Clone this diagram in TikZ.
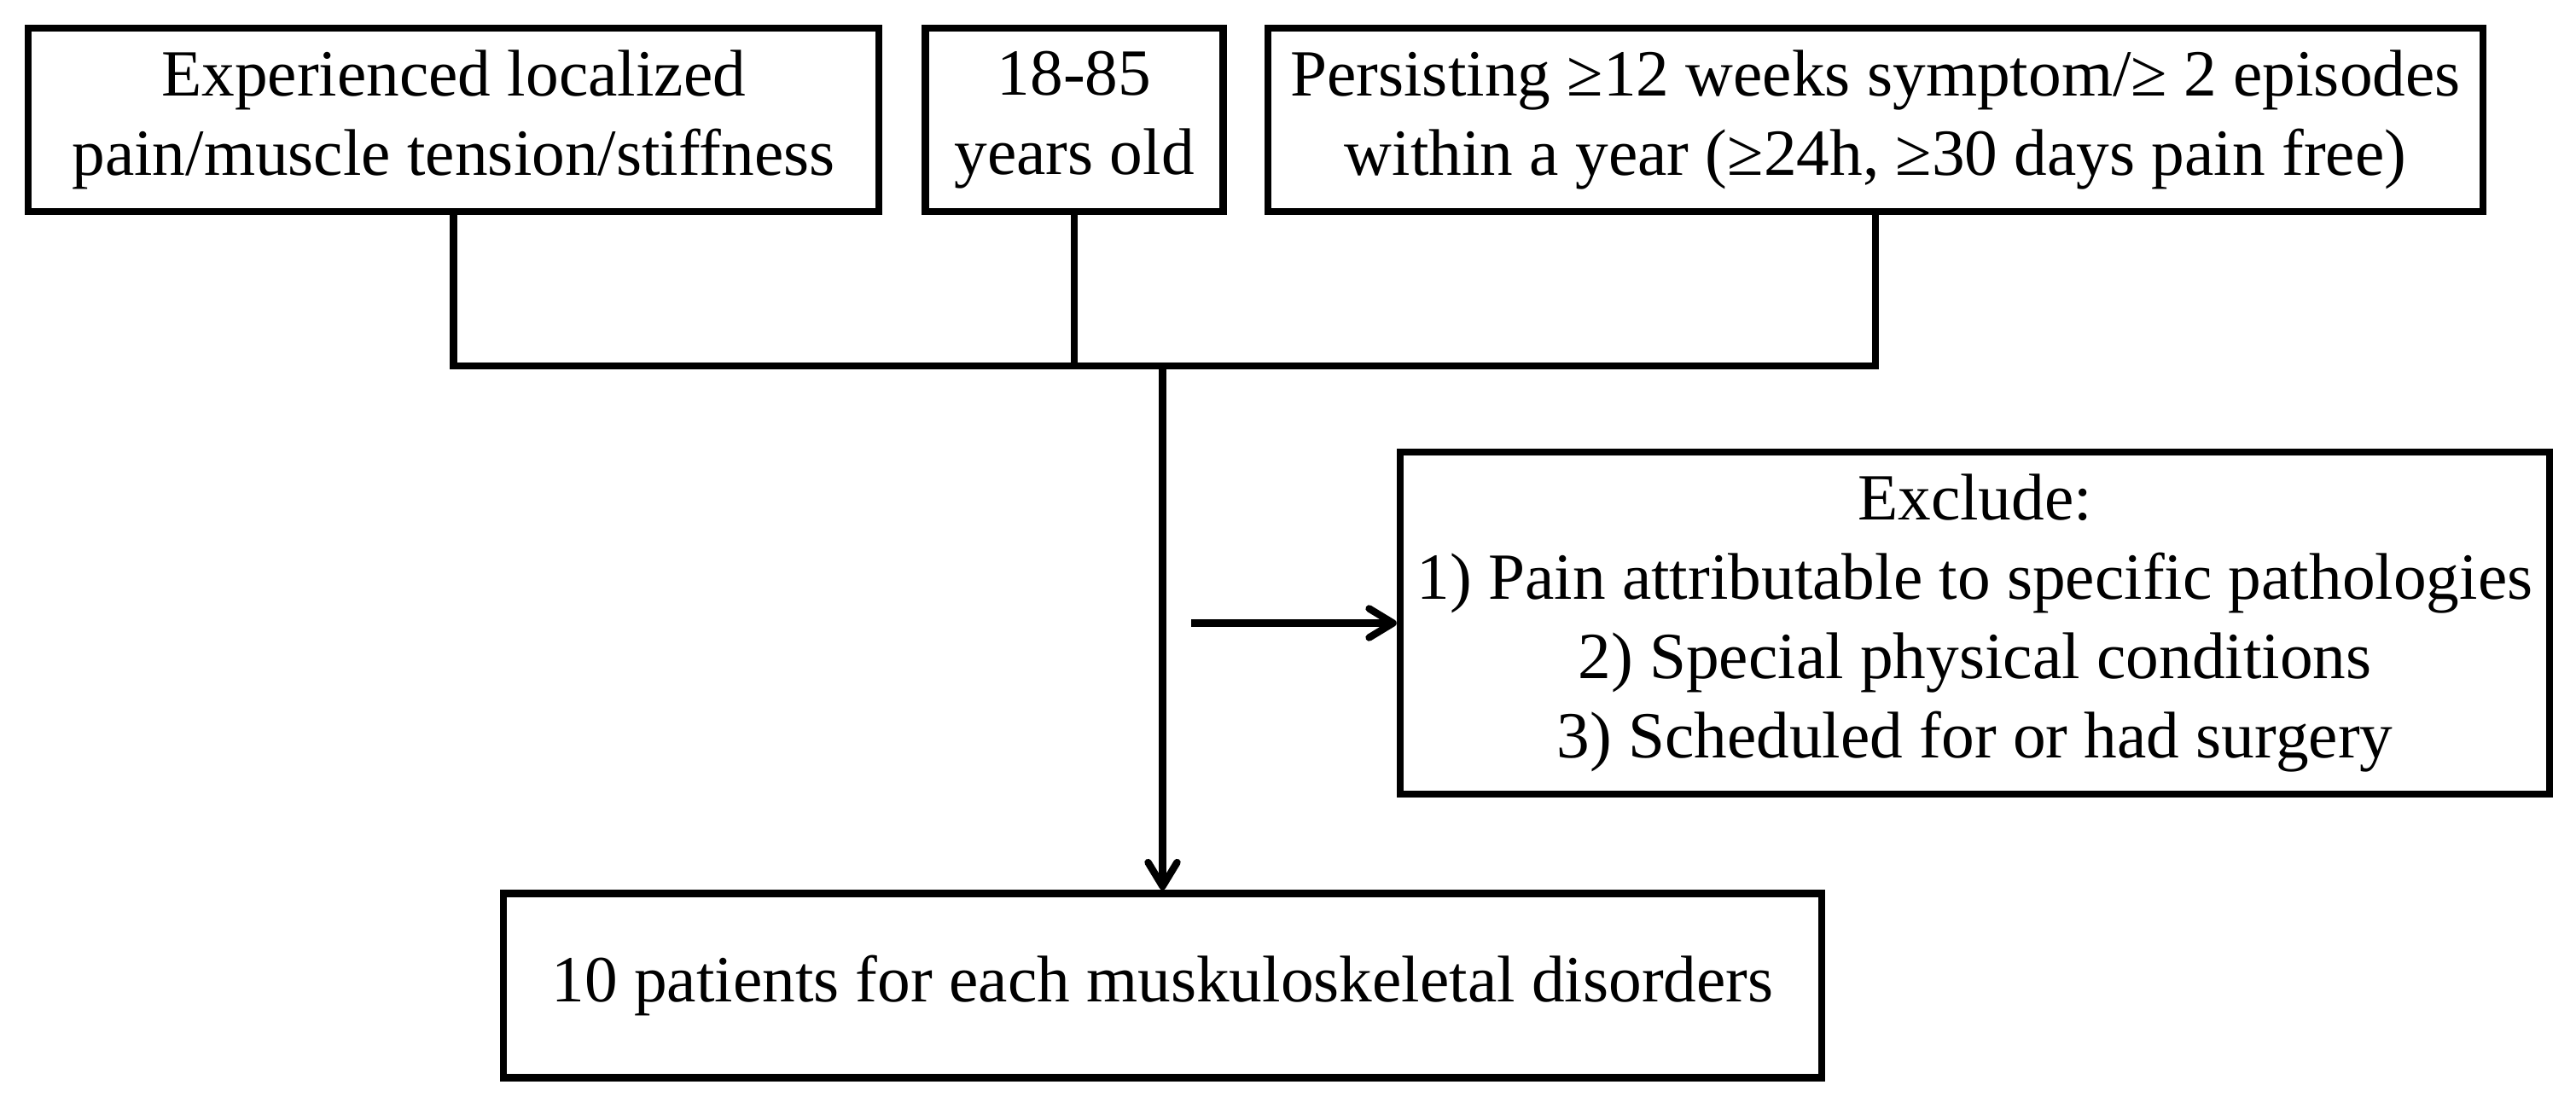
\documentclass[tikz,border=0pt]{standalone}
\usepackage{fontspec}
\setmainfont{Liberation Serif}
\usetikzlibrary{arrows.meta}
\begin{document}
\begin{tikzpicture}[line width=2.4pt, x=1cm, y=1cm, >={Straight Barb[length=2.8mm,width=3.4mm,round]}]
\tikzset{tbox/.style={draw, align=center, black, rectangle, inner sep=0, minimum height=2.15cm, font=\fontsize{22}{26.5}\selectfont}}
\useasboundingbox (0,0) rectangle (30.19,-12.99);
%% coordinate grid
\def \ytop {-1.405}
\def \ybar {-4.29}
\def \yexcl {-7.305}
\def \ybot {-11.555}

%% inclusion criteria
\node [tbox, minimum width=9.97cm] (pain) at (5.315,\ytop) {Experienced localized\\pain/muscle tension/stiffness};
\node [tbox, minimum width=3.49cm] (age) at (12.59,\ytop) {18-85\\years old};
\node [tbox, minimum width=14.235cm] (duration) at (21.98,\ytop) {Persisting ≥12 weeks symptom/≥ 2 episodes\\within a year (≥24h, ≥30 days pain free)};
% exclusion and result
\node [tbox, minimum width=13.47cm, minimum height=4.01cm] (exclude) at (23.145,\yexcl) {Exclude:\\1) Pain attributable to specific pathologies\\2) Special physical conditions\\3) Scheduled for or had surgery};
\node [tbox, minimum width=15.45cm, minimum height=2.16cm] (result) at (13.625,\ybot) {10 patients for each muskuloskeletal disorders};
\coordinate (exclstart) at (13.96,\yexcl);
% paths
\draw (pain.south) |- (duration.south |- 0,\ybar) -- (duration.south);
\draw (age.south) -- (age.south |- 0,\ybar);
\draw [->] (result.north |- 0,\ybar) -- (result.north);
\draw [->] (exclstart) -- (exclude.west);
\end{tikzpicture}
\end{document}
